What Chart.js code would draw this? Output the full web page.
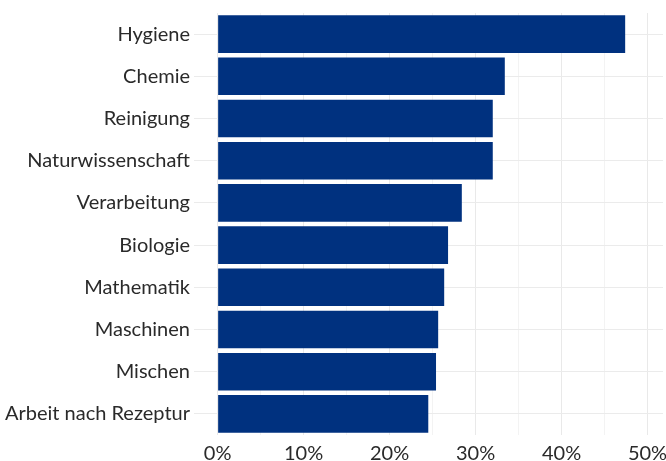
<!DOCTYPE html>
<html>
<head>
<meta charset="utf-8">
<script src="https://cdn.jsdelivr.net/npm/chart.js@4.4.1/dist/chart.umd.min.js"></script>
<style>
  html, body { margin: 0; padding: 0; background: #fff; }
  #wrap { width: 666px; height: 461px; position: relative; }
</style>
</head>
<body>
<div id="wrap"><canvas id="myChart"></canvas></div>
<script>
const ctx = document.getElementById('myChart').getContext('2d');

// categories, top to bottom
const labels = [
    'Hygiene',
    'Chemie',
    'Reinigung',
    'Naturwissenschaft',
    'Verarbeitung',
    'Biologie',
    'Mathematik',
    'Maschinen',
    'Mischen',
    'Arbeit nach Rezeptur',
];

// share in percent
const shares = [47.4, 33.4, 32.0, 32.0, 28.4, 26.8, 26.35, 25.65, 25.4, 24.5];

// x ticks every 5, labelled every 10
const tickStep = 5;
const tickLabelEvery = 10;

const data = {
    labels,
    datasets: [
        {
        data: shares,
        backgroundColor: '#00317F',
        borderWidth: 0,
        barPercentage: 0.89,
        categoryPercentage: 1,
        },
    ],
};

const config = {
    type: 'bar',
    data: data,
    options: {
        indexAxis: 'y',
        responsive: true,
        maintainAspectRatio: false,
        animation: false,
        layout: {
            padding: { top: 13, right: 3, left: 0, bottom: 0 },
        },
        plugins: {
            legend: { display: false },
            tooltip: { enabled: false },
        },
        scales: {
            x: {
                min: -2.75,
                max: 51.8,
                border: { display: false },
                grid: {
                    drawTicks: false,
                    color: function(c) {
                        return c.tick && c.tick.value % tickLabelEvery === 0 ? '#e9e9e9' : '#f3f3f3';
                    },
                },
                ticks: {
                    stepSize: tickStep,
                    includeBounds: false,
                    maxRotation: 0,
                    autoSkip: false,
                    padding: 7,
                    color: '#2a2a2a',
                    font: { family: 'Lato', size: 20 },
                    callback: function(value) {
                        return value % tickLabelEvery === 0 ? value + '%' : '';
                    },
                },
                afterFit: function(scale) {
                    scale.height = 26;
                    scale.paddingLeft = 0;
                    scale.paddingRight = 0;
                },
            },
            y: {
                border: { display: false },
                grid: {
                    offset: false,
                    drawTicks: false,
                    color: '#ebebeb',
                },
                ticks: {
                    padding: 4,
                    color: '#2a2a2a',
                    font: { family: 'Lato', size: 20 },
                },
                afterFit: function(scale) {
                    scale.width = 194;
                    scale.paddingTop = 0;
                    scale.paddingBottom = 0;
                },
            },
        },
    },
};

const myChart = new Chart(ctx, config);
</script>
</body>
</html>
